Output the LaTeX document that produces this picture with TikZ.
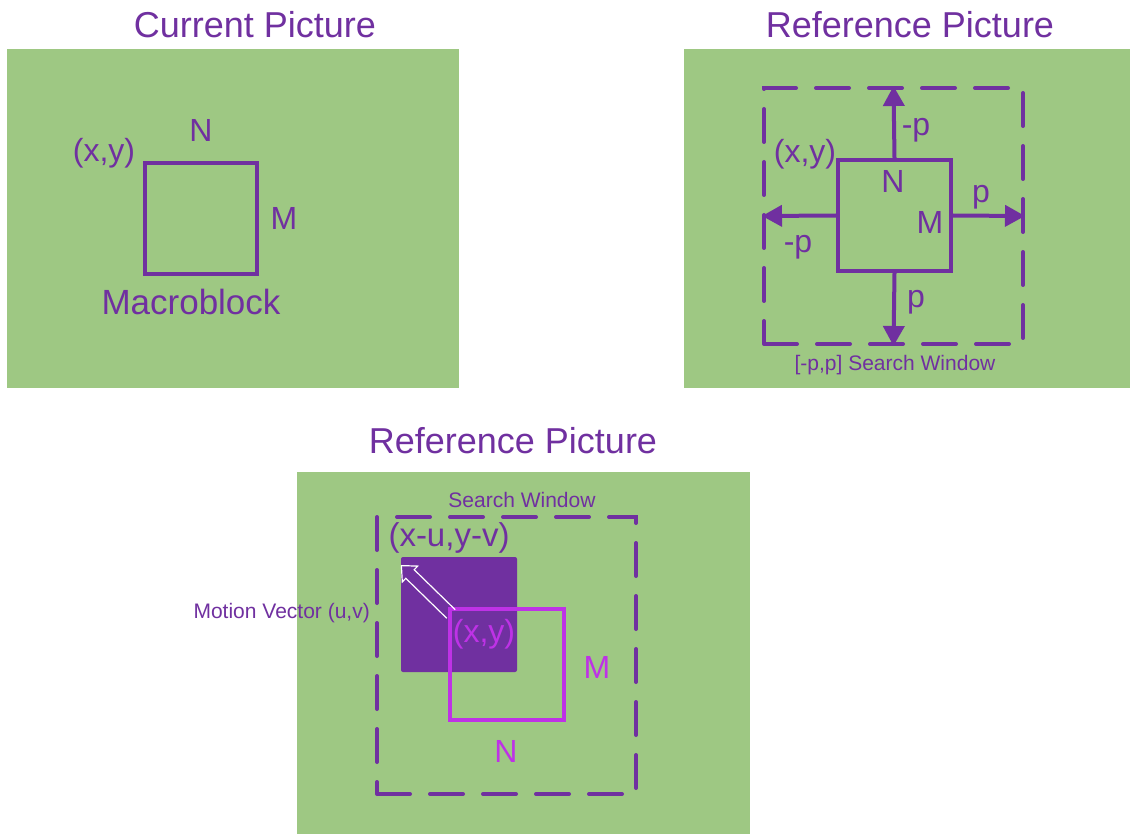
\documentclass[tikz,border=0pt]{standalone}
\usepackage{fontspec}
\setmainfont{Liberation Sans}
\usetikzlibrary{arrows.meta, positioning}
\definecolor{mpurple}{RGB}{112,48,160}
\definecolor{mmagenta}{RGB}{190,50,230}
\definecolor{mgreen} {RGB}{158,200,131}

\tikzset{
  panel/.style   ={fill=mgreen, draw=none},
  ttl/.style     ={text=mpurple, inner sep=0pt, font=\fontsize{36}{40}\selectfont},
  lbl/.style     ={text=mpurple, inner sep=0pt, font=\fontsize{32}{38}\selectfont},
  small/.style   ={text=mpurple, inner sep=0pt, font=\fontsize{21}{25}\selectfont},
  block/.style   ={draw=mpurple, line width=4pt, inner sep=0pt},
  window/.style  ={draw=mpurple, line width=4pt, inner sep=0pt, line cap=round,
                   dash pattern=on 33pt off 20pt},
  arr/.style     ={draw=mpurple, line width=4pt,
                   -{Triangle[length=20pt,width=21pt]}}
}

\begin{document}
\begin{tikzpicture}[x=1pt, y=-1pt]
  \useasboundingbox[fill=white] (0,0) rectangle (1130,834);

  % current picture
  \fill[panel] (7,49) rectangle (459,388);
  \node[ttl] (ttlcur) at (255,25) {Current Picture};
  \node[block, minimum width=112pt, minimum height=111pt] (mb) at (201,218.5) {};
  \node[lbl] (mbxy) at (104,153) {(x,y)};
  \node[lbl] (mbn) at (201,130) {N};
  \node[lbl] (mbm) at (284,218) {M};
  \node[lbl, font=\fontsize{35}{40}\selectfont] (mbname) at (191,302) {Macroblock};

  % reference picture, search range
  \fill[panel] (684,49) rectangle (1130,388);
  \node[ttl] (ttlref) at (910,25) {Reference Picture};
  \node[window, minimum width=259pt, minimum height=256pt] (sw) at (893.5,216) {};
  \node[block, minimum width=113pt, minimum height=111pt] (blk) at (894.5,215.5) {};
  \draw[arr] (blk.north) -- (sw.north);
  \draw[arr] (blk.south) -- (sw.south);
  \draw[arr] (blk.west) -- (sw.west);
  \draw[arr] (blk.east) -- (sw.east);
  \node[lbl] (up) at (916,130) {-p};
  \node[lbl] (dn) at (916,302) {p};
  \node[lbl] (lt) at (798,247) {-p};
  \node[lbl] (rt) at (981,197) {p};
  \node[lbl] (blkxy) at (805,154) {(x,y)};
  \node[lbl] (blkn) at (893,181) {N};
  \node[lbl] (blkm) at (930,222) {M};
  \node[small] (swname) at (895,365) {[-p,p] Search Window};

  % reference picture, best match
  \fill[panel] (297,472) rectangle (750,834);
  \node[ttl] (ttlmv) at (513,441) {Reference Picture};
  \node[window, minimum width=259pt, minimum height=277pt] (sw3) at (506.5,655.5) {};
  \node[small] (sw3name) at (522,500) {Search Window};
  \node[fill=mpurple, rounded corners=2pt, inner sep=0pt,
        minimum width=116pt, minimum height=115pt] (best) at (459,614.5) {};
  \node[draw=mmagenta, line width=4pt, inner sep=0pt,
        minimum width=114pt, minimum height=111pt] (cur) at (507,664.5) {};
  \node[lbl, font=\fontsize{33}{38}\selectfont] (bestxy) at (449,538) {(x-u,y-v)};
  \node[lbl, text=mmagenta] (curxy) at (484,634) {(x,y)};
  \node[lbl, text=mmagenta] (curm) at (597,667) {M};
  \node[lbl, text=mmagenta] (curn) at (506,751) {N};
  \draw[white, line width=1.2pt, line join=miter]
    (455.2,609.7) -- (414.2,569.7) -- (417.7,566.1) -- (401.4,565.6)
    -- (402.3,581.9) -- (405.8,578.3) -- (446.8,618.3);
  \node[small, anchor=east] (mv) at (370,613) {Motion Vector (u,v)};
\end{tikzpicture}
\end{document}
